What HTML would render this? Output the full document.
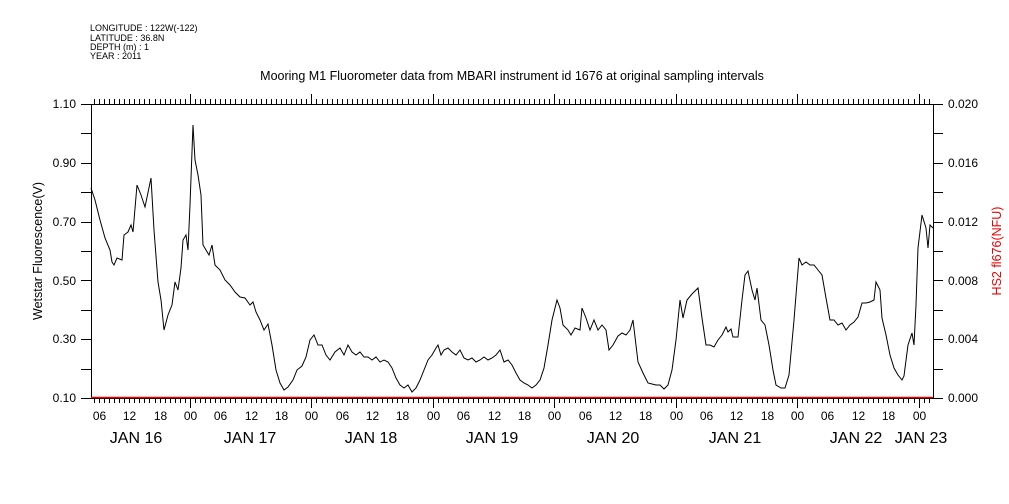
<!DOCTYPE html>
<html><head><meta charset="utf-8"><style>
html,body{margin:0;padding:0;background:#fff;}
svg{display:block;font-family:"Liberation Sans",sans-serif;}
</style></head><body>
<svg width="1009" height="504" viewBox="0 0 1009 504" xmlns="http://www.w3.org/2000/svg">
<rect width="1009" height="504" fill="#fff"/>
<g font-size="9" fill="#000">
<text x="90" y="31">LONGITUDE : 122W(-122)</text>
<text x="90" y="41">LATITUDE : 36.8N</text>
<text x="90" y="50">DEPTH (m) : 1</text>
<text x="90" y="59">YEAR : 2011</text>
</g>
<text x="512" y="80" font-size="12.5" text-anchor="middle">Mooring M1 Fluorometer data from MBARI instrument id 1676 at original sampling intervals</text>
<g stroke="#000" stroke-width="1" fill="none">
<line x1="91.5" y1="104" x2="91.5" y2="398"/>
<line x1="933.5" y1="104" x2="933.5" y2="398"/>
<line x1="91" y1="104.5" x2="934" y2="104.5"/>
<line x1="91" y1="398.5" x2="934" y2="398.5"/>
<path id="tk" d=""/>
</g>
<g id="ticks" stroke="#000" stroke-width="1"></g>
<g font-size="12" text-anchor="end">
<text x="76" y="108">1.10</text><text x="76" y="167">0.90</text><text x="76" y="226">0.70</text><text x="76" y="285">0.50</text><text x="76" y="343">0.30</text><text x="76" y="402">0.10</text>
</g>
<g font-size="12">
<text x="948" y="108">0.020</text><text x="948" y="167">0.016</text><text x="948" y="226">0.012</text><text x="948" y="285">0.008</text><text x="948" y="343">0.004</text><text x="948" y="402">0.000</text>
</g>
<text transform="translate(42,251) rotate(-90)" font-size="12.5" text-anchor="middle">Wetstar Fluorescence(V)</text>
<text transform="translate(1001,251) rotate(-90)" font-size="12.5" text-anchor="middle" fill="#e00">HS2 fl676(NFU)</text>
<g id="xl" font-size="12" text-anchor="middle"></g>
<g font-size="16" text-anchor="middle">
<text x="136" y="443">JAN 16</text><text x="250" y="443">JAN 17</text><text x="371" y="443">JAN 18</text><text x="492" y="443">JAN 19</text><text x="613" y="443">JAN 20</text><text x="735" y="443">JAN 21</text><text x="856" y="443">JAN 22</text><text x="921" y="443">JAN 23</text>
</g>
<line x1="91" y1="397.5" x2="933" y2="397.5" stroke="#e00" stroke-width="1.5"/>
<polyline fill="none" stroke="#000" stroke-width="1" points="91,188 95,200 100,220 105,238 110,250 112,262 114,265 117,258 122,260 124,235 128,232 131,225 133,232 137,185 141,195 145,207 151,178 154,230 158,282 161,300 164,330 168,315 172,305 175,282 178,290 181,268 183,240 186,235 188,250 190,205 193,125 195,160 198,175 201,195 203,245 206,250 209,255 212,245 215,265 220,270 225,280 230,285 235,292 240,297 245,298 250,305 253,302 256,312 260,320 264,330 268,324 272,345 276,370 280,383 284,390 288,387 293,380 297,370 302,366 306,357 310,340 314,335 318,345 322,345 326,355 330,360 335,352 340,348 344,355 348,345 352,352 356,355 360,352 364,357 368,357 372,360 376,357 380,362 384,360 388,362 392,368 396,378 400,385 404,388 408,385 412,392 416,388 420,380 424,370 428,360 432,355 436,348 438,345 441,355 444,350 448,348 452,352 456,355 460,350 464,358 468,360 472,358 476,362 480,360 484,357 488,360 492,358 496,355 500,350 504,362 508,360 512,365 516,373 520,380 524,383 528,385 532,388 536,385 540,380 544,368 548,345 552,320 557,300 560,308 563,325 568,330 571,335 575,328 580,330 582,308 586,318 590,330 594,320 598,330 602,325 606,330 609,350 613,345 618,336 622,333 626,335 630,330 633,320 638,362 643,373 648,383 652,384 656,385 660,385 664,389 668,385 672,370 676,340 680,300 683,318 687,300 692,294 696,290 698,288 702,318 706,345 710,345 714,347 718,340 722,335 726,327 728,332 731,329 733,337 738,337 742,300 745,275 748,271 752,290 755,300 757,288 761,320 765,325 769,345 773,370 776,385 781,388 785,388 789,375 794,320 799,258 802,265 806,262 810,265 814,265 818,270 822,275 826,298 830,320 834,320 838,325 842,323 846,330 850,325 854,322 858,317 862,303 866,303 870,302 874,300 876,282 880,290 882,318 886,335 890,355 894,368 898,375 902,380 904,376 908,345 912,333 914,345 916,305 918,248 922,215 926,228 928,248 930,225 933,228"/>
<script>
(function(){
var ns="http://www.w3.org/2000/svg",g=document.getElementById("ticks"),xl=document.getElementById("xl");
function ln(a,b,c,d){var l=document.createElementNS(ns,"line");l.setAttribute("x1",a);l.setAttribute("y1",b);l.setAttribute("x2",c);l.setAttribute("y2",d);g.appendChild(l);}
var x0=68.5,ph=5.06;
for(var h=0;h<=171;h++){var x=Math.round(x0+h*ph)+0.5;if(x<92||x>933)continue;
 var maj=(h%24==0);
 ln(x,398,x,maj?408:403);ln(x,104,x,maj?94:99);
 if(h%6==0){var t=document.createElementNS(ns,"text");t.setAttribute("x",x);t.setAttribute("y",420);var hh=h%24;t.textContent=(hh<10?"0":"")+hh;xl.appendChild(t);}
}
for(var i=0;i<=10;i++){var y=Math.round(104+i*29.4)+0.5;ln(81,y,91,y);ln(933,y,943,y);}
})();
</script>
</svg>
</body></html>
